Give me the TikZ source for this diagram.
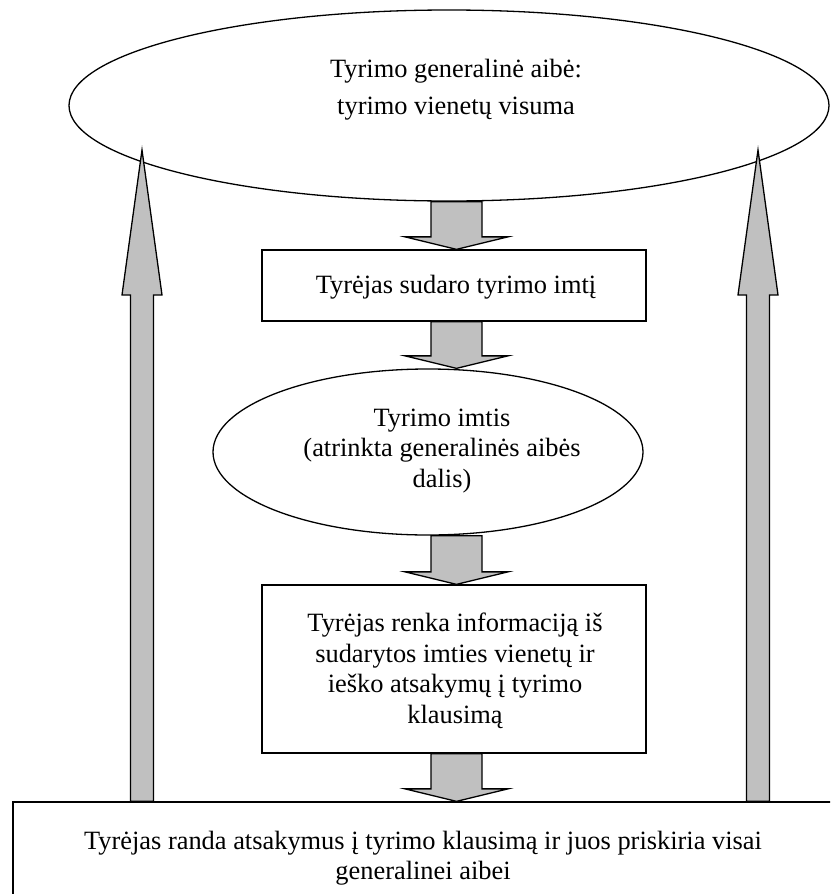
\documentclass[tikz,border=0pt]{standalone}
\usepackage{fontspec}
\setmainfont{Liberation Serif}
\usetikzlibrary{shapes.geometric,calc}
\definecolor{arrowfill}{RGB}{192,192,192}
\tikzset{
  outline/.style={draw=black, line width=1.3pt},
  boxnode/.style={outline, rectangle, inner sep=0pt, fill=white},
  ovalnode/.style={outline, ellipse, inner sep=0pt},
  txt/.style={align=center, font=\fontsize{26.4}{30.5}\selectfont, inner sep=0pt},
  txtwide/.style={align=center, font=\fontsize{26.4}{37}\selectfont, inner sep=0pt},
  fatarrow/.style={draw=black, line width=1.3pt, fill=arrowfill, line join=miter},
}
\newcommand\fatdown[3]{% from node, to node, axis coordinate
  \draw[fatarrow] let \p1=(#1.south), \p2=(#2.north), \p3=(#3) in
    (\x3-25.5pt,\y1) -- (\x3-25.5pt,\y2+12.5pt) -- (\x3-51.5pt,\y2+12.5pt) --
    (\x3,\y2) -- (\x3+51.5pt,\y2+12.5pt) -- (\x3+25.5pt,\y2+12.5pt) --
    (\x3+25.5pt,\y1) -- cycle;}
\newcommand\fatup[2]{% from node (bottom), tip coordinate
  \draw[fatarrow] let \p1=(#2), \p2=(#1.north) in
    (\x1-11.5pt,\y2) -- (\x1-11.5pt,\y1-145pt) -- (\x1-20pt,\y1-145pt) --
    (\x1,\y1) -- (\x1+20pt,\y1-145pt) -- (\x1+11.5pt,\y1-145pt) --
    (\x1+11.5pt,\y2) -- cycle;}
\begin{document}
\begin{tikzpicture}[x=1pt,y=-1pt]
\useasboundingbox (0,0) rectangle (830,894);
\clip (0,0) rectangle (830,894);
\fill[white] (0,0) rectangle (830,894);

% shapes
\node[ovalnode, minimum width=760, minimum height=191] (pop) at (449,105.5) {};
\node[txtwide] (poptxt) at (456,90) {Tyrimo generalinė aibė:\\tyrimo vienetų visuma};

\node[boxnode, minimum width=384, minimum height=71] (make) at (454,285.5) {};
\node[txt] (maketxt) at (456,287) {Tyrėjas sudaro tyrimo imtį};

\node[ovalnode, minimum width=430, minimum height=166] (sample) at (428,452) {};
\node[txt] (sampletxt) at (442,451) {Tyrimo imtis\\(atrinkta generalinės aibės\\dalis)};

\node[boxnode, minimum width=384, minimum height=168] (collect) at (454,669) {};
\node[txt] (collecttxt) at (455,671) {Tyrėjas renka informaciją iš\\sudarytos imties vienetų ir\\ieško atsakymų į tyrimo\\klausimą};

\node[boxnode, minimum width=837, minimum height=108] (result) at (431.5,856) {};
\node[txt] (resulttxt) at (423,858) {Tyrėjas randa atsakymus į tyrimo klausimą ir juos priskiria visai\\generalinei aibei};

% arrows
\coordinate (axis) at (456.5,0);
\coordinate (tipL) at (142,150);
\coordinate (tipR) at (758,150);
\fatdown{pop}{make}{axis}
\fatdown{make}{sample}{axis}
\fatdown{sample}{collect}{axis}
\fatdown{collect}{result}{axis}
\fatup{result}{tipL}
\fatup{result}{tipR}
\end{tikzpicture}
\end{document}
